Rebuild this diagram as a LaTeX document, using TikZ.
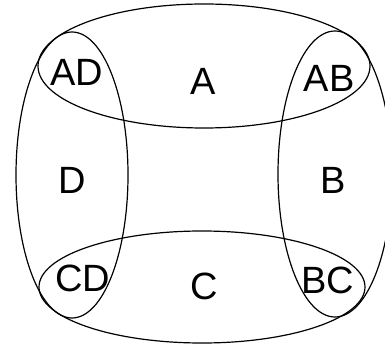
\documentclass[tikz,border=0pt]{standalone}
\usepackage{fontspec}
\setmainfont{Liberation Sans}
\begin{document}
\begin{tikzpicture}[x=1pt,y=-1pt,
  setline/.style={line width=1.2pt,black},
  lbl/.style={font=\fontsize{38}{44}\selectfont,inner sep=0pt,anchor=center}]
\useasboundingbox (0,0) rectangle (385,347);
\begin{scope}
\clip (0,0) rectangle (385,347);
\draw[setline] (204,66) ellipse [x radius=166, y radius=62];
\draw[setline] (202,287) ellipse [x radius=163, y radius=56];
\draw[setline] (72,175) ellipse [x radius=56, y radius=143];
\draw[setline] (335,174) ellipse [x radius=57, y radius=143];
\end{scope}
\node[lbl] (ad) at (77,72) {AD};
\node[lbl] (a) at (203,81) {A};
\node[lbl] (ab) at (329,78) {AB};
\node[lbl] (d) at (72,180) {D};
\node[lbl] (b) at (333,180) {B};
\node[lbl] (cd) at (83,278) {CD};
\node[lbl] (c) at (204,286) {C};
\node[lbl] (bc) at (328,280) {BC};
\end{tikzpicture}
\end{document}
